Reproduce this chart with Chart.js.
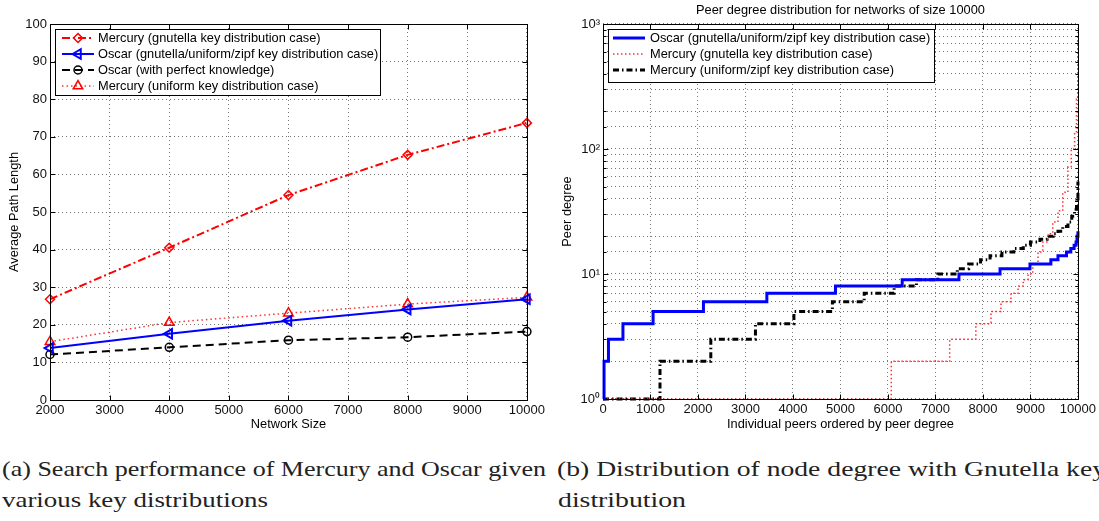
<!DOCTYPE html>
<html><head><meta charset="utf-8">
<script src="https://cdn.jsdelivr.net/npm/chart.js@4"></script>
<style>
html,body{margin:0;padding:0;background:#fff;width:1099px;height:521px;overflow:hidden;}
#c1{position:absolute;left:0;top:0;}
#c2{position:absolute;left:555px;top:0;}
#cap{position:absolute;left:0;top:440px;}
</style></head><body>
<canvas id="c1" width="548" height="440"></canvas>
<canvas id="c2" width="544" height="440"></canvas>
<svg id="cap" width="1099" height="81" xmlns="http://www.w3.org/2000/svg" font-family="Liberation Serif, Times New Roman, serif" font-size="21" fill="#222">
<text x="2" y="36" textLength="544" lengthAdjust="spacingAndGlyphs">(a) Search performance of Mercury and Oscar given</text>
<text x="2" y="67" textLength="266" lengthAdjust="spacingAndGlyphs">various key distributions</text>
<text x="557" y="36" textLength="549" lengthAdjust="spacingAndGlyphs">(b) Distribution of node degree with Gnutella key</text>
<text x="558" y="67" textLength="128" lengthAdjust="spacingAndGlyphs">distribution</text>
</svg>
<script>
// ---- Data: (a) search performance ----
const networkSizes = [2000, 4000, 6000, 8000, 10000];
const mercuryGnutella = [26.8, 40.5, 54.5, 65.2, 73.7];
const oscarAll = [13.8, 17.6, 21.1, 24.1, 26.8];
const oscarPerfect = [12.1, 14.0, 15.9, 16.7, 18.2];
const mercuryUniform = [15.5, 20.6, 23.1, 25.5, 27.3];

// ---- Data: (b) peer degree distribution (step points: x where level starts, level) ----
const oscarPeerX = [0, 22, 115, 420, 1055, 2115, 3450, 4895, 6300, 7495, 8360, 8990, 9430, 9580, 9760, 9850, 9920, 9960, 9980, 10000];
const oscarPeerDeg = [1, 2, 3, 4, 5, 6, 7, 8, 9, 10, 11, 12, 13, 14, 15, 16, 17, 18, 20, 22];
const mercGnuPeerX = [0, 6070, 7300, 7850, 8170, 8380, 8590, 8740, 8850, 8950, 9050, 9160, 9260, 9370, 9470, 9580, 9680, 9790, 9860, 9930, 9970, 10000];
const mercGnuPeerDeg = [1, 2, 3, 4, 5, 6, 7, 8, 9, 10, 12, 15, 18, 21, 26, 32, 45, 72, 100, 135, 250, 800];
const mercUniPeerX = [0, 1200, 2270, 3210, 4020, 4830, 5500, 6130, 6600, 7050, 7460, 7700, 7950, 8150, 8400, 8650, 8850, 9000, 9200, 9350, 9480, 9580, 9680, 9790, 9870, 9930, 9970, 10000];
const mercUniPeerDeg = [1, 2, 3, 4, 5, 6, 7, 8, 9, 10, 11, 12, 13, 14, 15, 16, 17, 18, 19, 20, 21, 22, 24, 26, 29, 33, 40, 55];

const logTickLabels = {1: '10\u2070', 10: '10\u00b9', 100: '10\u00b2', 1000: '10\u00b3'};

const FONT = "'Liberation Sans', Arial, Helvetica, sans-serif";
Chart.defaults.font.family = FONT;
Chart.defaults.color = '#111';

function pts(xs, ys) { return xs.map((x, i) => ({x: x, y: ys[i]})); }
const plainNum = (v) => String(v);

function drawMarker(ctx, style, x, y, r, rot) {
  ctx.beginPath();
  if (style === 'rectRot') {
    ctx.moveTo(x, y - r); ctx.lineTo(x + r, y); ctx.lineTo(x, y + r); ctx.lineTo(x - r, y); ctx.closePath();
  } else if (style === 'triangle') {
    const a = (rot || 0) * Math.PI / 180;
    for (let k = 0; k < 3; k++) {
      const t = a + k * 2 * Math.PI / 3;
      const px = x + Math.sin(t) * r, py = y - Math.cos(t) * r;
      if (k === 0) ctx.moveTo(px, py); else ctx.lineTo(px, py);
    }
    ctx.closePath();
  } else if (style === 'circle') {
    ctx.arc(x, y, r, 0, Math.PI * 2);
  }
  ctx.stroke();
}

const matlabBox = {
  id: 'matlabBox',
  afterDatasetsDraw(chart, args, opts) {
    const {ctx, chartArea: {left, right, top, bottom}, scales: {x, y}} = chart;
    ctx.save();
    ctx.strokeStyle = '#000'; ctx.lineWidth = 1; ctx.setLineDash([]);
    const L = Math.round(left) + 0.5, R = Math.round(right) + 0.5, T = Math.round(top) + 0.5, B = Math.round(bottom) + 0.5;
    ctx.beginPath();
    x.ticks.forEach(t => {
      const px = Math.round(x.getPixelForValue(t.value)) + 0.5;
      ctx.moveTo(px, B); ctx.lineTo(px, B - 5);
      ctx.moveTo(px, T); ctx.lineTo(px, T + 5);
    });
    y.ticks.forEach(t => {
      const py = Math.round(y.getPixelForValue(t.value)) + 0.5;
      const len = (opts.log && !logTickLabels[t.value]) ? 3 : 5;
      ctx.moveTo(L, py); ctx.lineTo(L + len, py);
      ctx.moveTo(R, py); ctx.lineTo(R - len, py);
    });
    ctx.stroke();
    ctx.strokeRect(L, T, R - L, B - T);
    ctx.restore();
  },
  afterDraw(chart, args, opts) {
    const lg = opts.legend;
    if (!lg) return;
    const ctx = chart.ctx;
    ctx.save();
    ctx.fillStyle = '#fff'; ctx.fillRect(lg.x, lg.y, lg.w, lg.h);
    ctx.strokeStyle = '#000'; ctx.lineWidth = 1; ctx.setLineDash([]);
    ctx.strokeRect(lg.x + 0.5, lg.y + 0.5, lg.w, lg.h);
    chart.data.datasets.forEach((ds, i) => {
      const cy = lg.y + lg.first + i * lg.rowH;
      ctx.save();
      ctx.strokeStyle = ds.borderColor; ctx.lineWidth = ds.borderWidth;
      ctx.setLineDash(ds.borderDash || []);
      ctx.beginPath(); ctx.moveTo(lg.x0, cy); ctx.lineTo(lg.x1, cy); ctx.stroke();
      ctx.restore();
      if (ds.pointRadius > 0) {
        ctx.save();
        ctx.setLineDash([]);
        ctx.strokeStyle = ds.pointBorderColor; ctx.lineWidth = ds.pointBorderWidth;
        drawMarker(ctx, ds.pointStyle, (lg.x0 + lg.x1) / 2, cy, ds.pointRadius, ds.pointRotation);
        ctx.restore();
      }
      ctx.fillStyle = '#000';
      ctx.font = '12.8px ' + FONT;
      ctx.textBaseline = 'middle';
      ctx.fillText(ds.label, lg.tx, cy + 0.5);
    });
    ctx.restore();
  }
};

const gridCfg = {color: 'rgba(0,0,0,0.55)', lineWidth: 1, drawTicks: false};
const borderCfg = {display: false, dash: [1, 3]};
const AX = 12.8;

// ---- Chart (a) ----
new Chart(document.getElementById('c1'), {
  type: 'line',
  data: {
    datasets: [
      {label: 'Mercury (gnutella key distribution case)', data: pts(networkSizes, mercuryGnutella),
       borderColor: '#ff0000', borderWidth: 2, borderDash: [8, 3, 2, 3], pointStyle: 'rectRot', pointRadius: 4.5,
       pointBorderColor: '#ff0000', pointBorderWidth: 1.5, pointBackgroundColor: 'rgba(0,0,0,0)', clip: false},
      {label: 'Oscar (gnutella/uniform/zipf key distribution case)', data: pts(networkSizes, oscarAll),
       borderColor: '#0000ff', borderWidth: 2, pointStyle: 'triangle', pointRotation: -90, pointRadius: 5.5,
       pointBorderColor: '#0000ff', pointBorderWidth: 2, pointBackgroundColor: 'rgba(0,0,0,0)', clip: false},
      {label: 'Oscar (with perfect knowledge)', data: pts(networkSizes, oscarPerfect),
       borderColor: '#000000', borderWidth: 2, borderDash: [8, 5], pointStyle: 'circle', pointRadius: 4,
       pointBorderColor: '#000000', pointBorderWidth: 1.5, pointBackgroundColor: 'rgba(0,0,0,0)', clip: false},
      {label: 'Mercury (uniform key distribution case)', data: pts(networkSizes, mercuryUniform),
       borderColor: '#ff3030', borderWidth: 1.5, borderDash: [1.5, 3], pointStyle: 'triangle', pointRadius: 5.5,
       pointBorderColor: '#ff0000', pointBorderWidth: 1.5, pointBackgroundColor: 'rgba(0,0,0,0)', clip: false}
    ]
  },
  options: {
    responsive: false, animation: false,
    layout: {padding: {top: 24, right: 20, left: 0, bottom: 0}},
    plugins: {
      legend: {display: false}, tooltip: {enabled: false},
      matlabBox: {legend: {x: 55, y: 29, w: 325, h: 66, first: 9, rowH: 16, x0: 62, x1: 94, tx: 98}}
    },
    scales: {
      x: {type: 'linear', min: 2000, max: 10000,
          ticks: {stepSize: 1000, font: {size: 13}, padding: 3, maxRotation: 0, autoSkip: false, callback: plainNum},
          grid: gridCfg, border: borderCfg,
          title: {display: true, text: 'Network Size', font: {size: AX}, color: '#000', padding: {top: 0, bottom: 8}},
          afterFit(s) { s.height = 40; }},
      y: {type: 'linear', min: 0, max: 100,
          ticks: {stepSize: 10, font: {size: 13}, padding: 3, callback: plainNum},
          grid: gridCfg, border: borderCfg,
          title: {display: true, text: 'Average Path Length', font: {size: AX}, color: '#000', padding: {top: 7, bottom: 0}},
          afterFit(s) { s.width = 50; }}
    }
  },
  plugins: [matlabBox]
});

// ---- Chart (b) ----
new Chart(document.getElementById('c2'), {
  type: 'line',
  data: {
    datasets: [
      {label: 'Oscar (gnutella/uniform/zipf key distribution case)', data: pts(oscarPeerX, oscarPeerDeg),
       borderColor: '#0000ff', borderWidth: 3, stepped: 'before', pointRadius: 0, clip: false},
      {label: 'Mercury (gnutella key distribution case)', data: pts(mercGnuPeerX, mercGnuPeerDeg),
       borderColor: '#ff3030', borderWidth: 1.5, borderDash: [1.5, 2.5], stepped: 'before', pointRadius: 0, clip: false},
      {label: 'Mercury (uniform/zipf key distribution case)', data: pts(mercUniPeerX, mercUniPeerDeg),
       borderColor: '#000000', borderWidth: 3, borderDash: [6, 3, 1.5, 3], stepped: 'before', pointRadius: 0, clip: false}
    ]
  },
  options: {
    responsive: false, animation: false,
    layout: {padding: {top: 0, right: 21, left: 0, bottom: 0}},
    plugins: {
      legend: {display: false}, tooltip: {enabled: false},
      title: {display: true, fullSize: false, text: 'Peer degree distribution for networks of size 10000',
              font: {size: AX, weight: 'normal'}, color: '#000', padding: {top: 3, bottom: 5.6}},
      matlabBox: {log: true, legend: {x: 53, y: 29, w: 326, h: 53, first: 9, rowH: 16, x0: 58, x1: 90, tx: 95}}
    },
    scales: {
      x: {type: 'linear', min: 0, max: 10000,
          ticks: {stepSize: 1000, font: {size: 13}, padding: 3, maxRotation: 0, autoSkip: false, callback: plainNum},
          grid: gridCfg, border: borderCfg,
          title: {display: true, text: 'Individual peers ordered by peer degree', font: {size: AX}, color: '#000', padding: {top: 0, bottom: 8}},
          afterFit(s) { s.height = 41; }},
      y: {type: 'logarithmic', min: 1, max: 1000,
          ticks: {font: {size: 13}, padding: 3, autoSkip: false,
                  callback: (v) => logTickLabels[v] || ''},
          grid: gridCfg, border: borderCfg,
          title: {display: true, text: 'Peer degree', font: {size: AX}, color: '#000', padding: {top: 5, bottom: 0}},
          afterFit(s) { s.width = 48; }}
    }
  },
  plugins: [matlabBox]
});
</script>
</body></html>
